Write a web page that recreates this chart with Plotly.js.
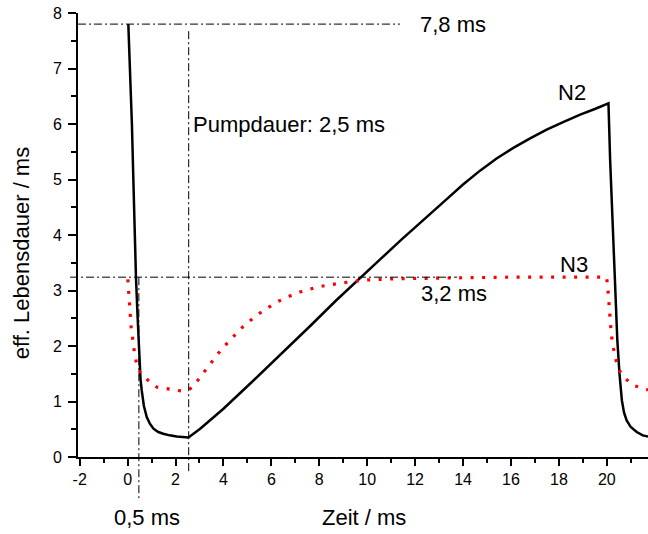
<!DOCTYPE html>
<html>
<head>
<meta charset="utf-8">
<script src="https://cdn.plot.ly/plotly-3.0.1.min.js"></script>
<style>html,body{margin:0;padding:0;background:#fff;}#chart{width:648px;height:534px;}</style>
</head>
<body>
<div id="chart"></div>
<script>
// N2 (black solid)
const n2X = [0.03,0.11,0.18,0.24,0.29,0.35,0.42,0.49,0.54,0.59,0.68,0.80,0.93,1.08,1.28,1.49,1.75,2.05,2.3,2.54,3.03,3.5,4.0,5.11,6.23,7.62,8.7,9.79,10.54,11.44,12.3,13.25,14.0,14.71,15.4,16.1,16.8,17.49,18.2,18.89,19.5,20.07,20.14,20.28,20.35,20.44,20.53,20.63,20.72,20.83,21.0,21.25,21.5,21.72];
const n2Y = [7.8,7.0,6.0,5.0,4.0,3.23,2.5,1.69,1.40,1.20,0.92,0.72,0.60,0.51,0.45,0.42,0.39,0.37,0.36,0.35,0.51,0.69,0.87,1.32,1.78,2.36,2.82,3.25,3.56,3.92,4.26,4.62,4.91,5.16,5.38,5.57,5.74,5.90,6.04,6.17,6.27,6.37,5.35,3.91,3.0,2.1,1.5,1.02,0.80,0.66,0.54,0.45,0.39,0.37];
// N3 (red dotted)
const n3X = [0.01,0.08,0.15,0.22,0.28,0.38,0.52,0.69,0.94,1.22,1.73,2.23,2.5,2.72,3.12,3.51,3.88,4.35,4.82,5.32,5.81,6.32,6.82,7.31,8,9,10,11,12,14,16,18,19.99,20.04,20.08,20.14,20.19,20.28,20.38,20.51,20.73,21.11,21.6,21.72];
const n3Y = [3.2,2.77,2.32,2.11,1.9,1.67,1.53,1.46,1.34,1.26,1.22,1.19,1.2,1.26,1.49,1.70,1.92,2.14,2.35,2.53,2.68,2.81,2.91,2.99,3.07,3.14,3.19,3.21,3.22,3.23,3.24,3.24,3.24,3.07,2.83,2.56,2.2,1.96,1.75,1.57,1.43,1.29,1.22,1.21];
const xTicks = [-2,0,2,4,6,8,10,12,14,16,18,20];
const yTicks = [0,1,2,3,4,5,6,7,8];
const xTitle = 'Zeit / ms';
const yTitle = 'eff. Lebensdauer / ms';

const FONT = 'Liberation Sans, Arial, sans-serif';
const traces = [
  {x: n2X, y: n2Y, type: 'scatter', mode: 'lines', line: {color: '#000', width: 2.5}, name: 'N2'},
  {x: n3X, y: n3Y, type: 'scatter', mode: 'lines', line: {color: '#ff0000', width: 3.2, dash: '3px,8.5px'}, name: 'N3'}
];
const dd = '8px,3px,2px,3px';
const shapes = [
  {type: 'line', xref: 'x', yref: 'y', x0: -2.07, x1: 11.37, y0: 7.8, y1: 7.8, line: {color: '#000', width: 1, dash: dd}},
  {type: 'line', xref: 'x', yref: 'paper', x0: 2.55, x1: 2.55, y0: 0.959, y1: -0.034, line: {color: '#000', width: 1, dash: dd}},
  {type: 'line', xref: 'paper', yref: 'y', x0: -0.014, x1: 0.665, y0: 3.24, y1: 3.24, line: {color: '#000', width: 1, dash: dd}},
  {type: 'line', xref: 'x', yref: 'paper', x0: 0.47, x1: 0.47, y0: 0.405, y1: -0.098, line: {color: '#000', width: 1, dash: dd}}
];
const af = {family: FONT, size: 22, color: '#000'};
const annotations = [
  {text: '7,8 ms', xref: 'x', yref: 'y', x: 12.11, y: 7.8, xanchor: 'left', yanchor: 'middle', showarrow: false, font: af},
  {text: 'Pumpdauer: 2,5 ms', xref: 'x', yref: 'y', x: 2.64, y: 6.0, xanchor: 'left', yanchor: 'middle', showarrow: false, font: af},
  {text: 'N2', xref: 'x', yref: 'y', x: 18.54, y: 6.57, xanchor: 'center', yanchor: 'middle', showarrow: false, font: af},
  {text: 'N3', xref: 'x', yref: 'y', x: 18.62, y: 3.47, xanchor: 'center', yanchor: 'middle', showarrow: false, font: af},
  {text: '3,2 ms', xref: 'x', yref: 'y', x: 13.63, y: 2.94, xanchor: 'center', yanchor: 'middle', showarrow: false, font: af},
  {text: '0,5 ms', xref: 'x', yref: 'paper', x: 0.83, y: -0.137, xanchor: 'center', yanchor: 'middle', showarrow: false, font: af},
  {text: xTitle, xref: 'paper', yref: 'paper', x: 0.502, y: -0.137, xanchor: 'center', yanchor: 'middle', showarrow: false, font: af},
  {text: yTitle, xref: 'paper', yref: 'paper', x: -0.099, y: 0.458, xanchor: 'center', yanchor: 'middle', textangle: -90, showarrow: false, font: af}
];
const layout = {
  width: 648, height: 534,
  margin: {l: 78, r: 0, t: 13, b: 77, pad: 0},
  paper_bgcolor: '#fff', plot_bgcolor: '#fff',
  showlegend: false,
  font: {family: FONT, size: 16, color: '#000'},
  xaxis: {
    range: [-2.07, 21.72], tickvals: xTicks, ticktext: xTicks.map(String),
    showgrid: false, zeroline: false, showline: true, linecolor: '#000', linewidth: 2,
    ticks: 'outside', ticklen: 7, tickwidth: 2, tickcolor: '#000',
    minor: {dtick: 1, tick0: 0, ticks: 'outside', ticklen: 4, tickwidth: 2, tickcolor: '#000', showgrid: false},
    tickfont: {family: FONT, size: 16, color: '#000'}
  },
  yaxis: {
    range: [0, 8], tickvals: yTicks, ticktext: yTicks.map(String),
    showgrid: false, zeroline: false, showline: true, linecolor: '#000', linewidth: 2,
    ticks: 'outside', ticklen: 8, tickwidth: 2, tickcolor: '#000', ticklabelstandoff: 3,
    minor: {dtick: 0.5, tick0: 0, ticks: 'outside', ticklen: 5, tickwidth: 2, tickcolor: '#000', showgrid: false},
    tickfont: {family: FONT, size: 16, color: '#000'}
  },
  shapes: shapes,
  annotations: annotations
};
Plotly.newPlot('chart', traces, layout, {displayModeBar: false, staticPlot: true});
</script>
</body>
</html>
